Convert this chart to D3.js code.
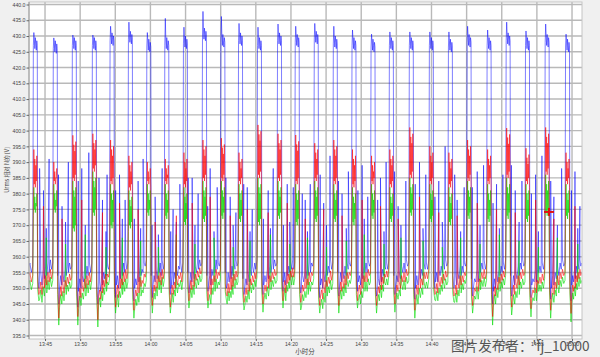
<!DOCTYPE html>
<html><head><meta charset="utf-8">
<script src="https://cdn.jsdelivr.net/npm/d3@7"></script>
<style>
html,body{margin:0;padding:0;background:#f0f0f0;}
svg{display:block;}
</style></head><body>
<svg id="chart" width="600" height="357"></svg>
<script>
// ---------- data (time = minutes after 13:00, values in V) ----------
const xTickValues = [45,50,55,60,65,70,75,80,85,90,95,100,105,110,115,120];
const xTickLabels = ["13:45","13:50","13:55","14:00","14:05","14:10","14:15","14:20","14:25","14:30","14:35","14:40","14:45","14:50","14:55","15:00"];
const yTickValues = [335,340,345,350,355,360,365,370,375,380,385,390,395,400,405,410,415,420,425,430,435,440];

const peakMin = [43.48,46.32,49.03,51.88,54.40,57.01,59.63,62.19,64.84,67.55,70.17,72.68,75.38,78.23,80.75,83.46,86.17,88.83,91.54,94.15,96.99,99.84,102.55,105.21,108.06,110.77,113.52,116.32,119.22];
const blueTop = [431.1,429.4,430.3,430.3,433.1,434.4,431.1,435.6,432.8,437.8,436.2,434.0,432.8,433.8,433.1,434.0,433.1,431.9,430.6,431.3,431.3,431.3,431.3,433.1,431.9,434.4,431.6,433.8,430.6];
const bluePlateau = [428,427,428,428,429.5,430,427.5,428,428.5,431,429,429.5,428,429.5,429,430,428.5,428,427.5,428,428,428,427.5,429,428,429.5,428,429,427.5];
const redHigh = [394,390,398.5,399,397,392,390,391,393,397,397.6,393,401.8,399,398.6,396,397,394,392,394,401,395,393,397,394,400.8,394.4,401,393];
const redLow = [381,382,383,386,382,380,382,382,381,383,383,382,384,383,382,383,382,381,382,381,384,382,381,383,382,384,382,385,382];
const greenHigh = [382,383,384,387,383,381,383,383,382,384,384,383,385,384,383,384,383,382,383,382,385,383,382,384,383,385,383,386,383];
const greenLow = [373,373,367,372,368,368,372,371,369,370,371,370,369,371,369,370,370,369,371,370,372,370,369,371,370,371,370,372,371];
const blueDip = [350,345,344,345,347,346,347,348,348.5,349,350,348,348,349,348.5,347,347.5,349,347.5,348,346.5,350,350,347.5,345,347.5,347,346.5,346];
const redDip = [348,340.5,341,340,344,343,344.5,344,346,346,348,345.5,345,346,345.5,344.5,344.5,346,344.5,345,343,348,347.5,344.5,341,344,343.5,343,342];
const greenDip = [346,338.3,338.3,337.7,342.1,340.5,342.1,342.1,343.7,343.7,346.2,343.1,342.4,343.7,343.1,342.1,342.1,343.7,342.1,342.4,340.5,346.2,345.6,342.1,338.3,341.5,340.9,340.5,339.3];
const redGap = [3,3.5,3,2.5,3,3.5,3,3,2.5,3,3.5,3,3,2.5,3,3.5,3,3,2.5,3,3,3.5,3,3,2.5,3,3.5,3,3];
const greenGap = [5.5,6,5.5,5,6,6.5,5.5,5.5,5,6,6,5.5,5.5,5,6,6.5,5.5,6,5,5.5,6,6,5.5,5.5,5,6,6,5.5,5.5];
const blueRecovery = [
[352,355,351,356,353,357,354,358,355,359,356,358],
[350,354,351,355,352,356,354,357,355,358,356,357],
[349,353,350,354,352,356,353,357,354,358,355,358],
[350,352,349,354,351,355,353,357,354,357,356,358],
[351,354,350,355,353,356,354,358,355,359,356,358],
[350,353,351,355,352,357,354,356,355,358,357,359],
[351,354,352,356,353,357,355,358,354,359,356,358],
[350,354,351,355,353,356,354,357,356,358,355,358],
[351,355,352,356,353,357,355,358,356,359,357,358],
[352,354,351,356,354,357,355,359,356,358,357,359],
[351,355,352,355,353,357,354,358,356,359,357,358],
[350,353,351,355,352,356,354,357,355,358,356,359],
[351,354,352,356,353,357,355,358,356,359,357,358],
[352,355,351,356,354,357,355,358,356,359,356,358],
[350,354,352,355,353,356,354,358,355,358,357,359],
[351,353,350,355,352,356,354,357,355,359,356,358],
[351,355,352,356,353,357,354,358,356,358,357,359],
[352,354,351,355,353,357,355,358,355,359,357,358],
[350,353,351,356,352,356,354,357,356,358,356,359],
[351,354,352,355,353,357,355,358,355,359,357,358],
[350,354,351,356,353,356,354,358,356,358,356,359],
[352,355,352,356,354,357,355,358,356,359,357,358],
[351,354,351,355,353,357,354,357,355,358,357,359],
[350,353,352,356,352,356,355,358,356,359,356,358],
[349,353,350,355,352,356,354,357,355,358,356,359],
[350,354,351,355,353,357,354,358,356,359,357,358],
[351,353,352,356,352,356,355,357,355,358,356,359],
[350,354,351,355,353,357,354,358,356,359,357,358],
[351,354,352,356,353,357,355,358,356,359,357,358]
];
const blueSpikes = [
[[0.75,388],[1.3,381],[1.7,369],[2.1,391]],
[[0.6,386],[1.1,376],[1.6,371],[2.0,390]],
[[0.7,384],[1.2,388],[1.7,370],[2.2,393]],
[[0.8,385],[1.3,378],[1.8,368],[1.95,386]],
[[0.65,381],[1.2,386],[1.6,372],[2.0,378]],
[[0.7,372],[1.24,384],[1.6,369],[1.95,391]],
[[0.6,370],[1.04,379],[1.5,367],[2.04,388]],
[[0.7,368],[1.04,375],[1.5,371],[2.0,383]],
[[0.53,385],[1.1,385],[1.5,370],[1.95,380]],
[[0.6,376],[0.95,388],[1.5,368],[1.95,382]],
[[0.57,385],[1.18,379],[1.6,370],[2.0,374]],
[[0.6,383],[1.1,382],[1.5,368],[1.81,375]],
[[0.7,372],[1.38,381],[1.7,369],[2.1,388]],
[[0.7,370],[1.24,383],[1.6,371],[2.1,382]],
[[0.86,380],[1.28,378],[1.6,368],[2.0,383]],
[[0.7,386],[1.2,377],[1.6,370],[2.1,392]],
[[0.6,384],[1.1,380],[1.7,369],[2.0,387]],
[[0.7,381],[1.3,389],[1.6,372],[2.1,379]],
[[0.8,378],[1.2,385],[1.7,368],[2.0,390]],
[[0.6,387],[1.1,376],[1.5,370],[2.2,384]],
[[0.7,383],[1.3,390],[1.8,369],[2.2,386]],
[[0.65,379],[1.2,384],[1.7,371],[2.1,395]],
[[0.75,386],[1.1,378],[1.6,368],[2.1,382]],
[[0.6,382],[1.3,387],[1.7,370],[2.2,389]],
[[0.7,377],[1.2,383],[1.6,369],[2.1,386]],
[[0.6,389],[1.15,381],[1.7,371],[2.1,384]],
[[0.7,380],[1.3,386],[1.7,368],[2.2,392]],
[[0.65,384],[1.1,379],[1.6,370],[2.2,388]],
[[0.7,381],[1.2,387],[1.6,369],[1.9,376]]
];
const redSpikes = [[[1.3,376]],[[1.1,372]],[[1.2,378]],[[1.3,374]],[[1.2,377]],[[1.24,375]],[[1.04,371]],[[1.5,373]],[[1.1,377]],[[0.95,379]],[[1.18,373]],[[1.1,375]],[[1.38,374]],[[1.24,377]],[[1.28,372]],[[1.2,375]],[[1.1,373]],[[1.3,378]],[[1.2,376]],[[1.1,372]],[[1.3,379]],[[1.2,374]],[[1.1,373]],[[1.3,377]],[[1.2,375]],[[1.15,374]],[[1.3,378]],[[1.1,372]],[[1.2,376]]];
const greenSpikes = [[[1.7,366]],[[1.6,364]],[[1.7,367]],[[1.8,363]],[[1.6,366]],[[1.6,365]],[[1.5,363]],[[1.5,367]],[[1.5,364]],[[1.5,366]],[[1.6,363]],[[1.5,365]],[[1.7,367]],[[1.6,364]],[[1.6,366]],[[1.6,363]],[[1.7,365]],[[1.6,367]],[[1.7,364]],[[1.5,366]],[[1.8,365]],[[1.7,363]],[[1.6,366]],[[1.7,364]],[[1.6,367]],[[1.7,365]],[[1.7,363]],[[1.6,366]],[[1.6,364]]];
const leadTimes = [42.6,42.85,43.05,43.25];
const leadBlue = [356,358,355,357];
const holdOffsets = [-0.14,-0.07,0,0.07,0.14,0.21,0.28,0.35,0.42];
const blueHoldJitter = [-1,0,1,-2,1.5,-0.5,-2.5,0.5,-1];
const bandJitter = [0,0,2,3,1,5,3,2,0];
const cursorPoint = [116.72, 374.2];
const endMin = 121.6;

// ---------- layout ----------
const W = 600, H = 357;
const plotL = 29, plotR = 582, plotT = 2, plotB = 339;
const svg = d3.select('#chart');
const x = d3.scaleLinear().domain([42.72, 121.42]).range([plotL, plotR]);
const y = d3.scaleLinear().domain([335, 440]).range([335.5, 4.5]);

svg.append('rect').attr('width', W).attr('height', H).attr('fill', '#f0f0f0');
svg.append('rect').attr('x', plotL).attr('y', plotT).attr('width', plotR - plotL).attr('height', plotB - plotT)
  .attr('fill', '#fff');

// grid
const grid = svg.append('g');
grid.selectAll('line.h').data(yTickValues).join('line').attr('class', 'h')
  .attr('x1', plotL).attr('x2', plotR).attr('y1', d => y(d)).attr('y2', d => y(d))
  .attr('stroke', '#b9b9b9').attr('stroke-width', 1.4);
grid.selectAll('line.v').data(xTickValues).join('line').attr('class', 'v')
  .attr('y1', plotT).attr('y2', plotB).attr('x1', d => x(d)).attr('x2', d => x(d))
  .attr('stroke', '#b9b9b9').attr('stroke-width', 1.4);

// build series
function buildSeries(kind) {
  const gap = kind === 'blue' ? null : (kind === 'red' ? redGap : greenGap);
  const pts = [];
  leadTimes.forEach((t, k) => pts.push([t, leadBlue[k] - (gap ? gap[0] : 0)]));
  peakMin.forEach((T, i) => {
    const g = gap ? gap[i] : 0;
    const Tn = i < peakMin.length - 1 ? peakMin[i + 1] : endMin;
    holdOffsets.forEach((o, k) => {
      let v;
      if (kind === 'blue') v = k === 1 ? blueTop[i] : bluePlateau[i] + blueHoldJitter[k];
      else {
        const hi = kind === 'red' ? redHigh[i] : greenHigh[i];
        const lo = kind === 'red' ? redLow[i] : greenLow[i];
        v = k % 2 ? hi - bandJitter[k] : lo + bandJitter[k];
      }
      pts.push([T + o, v]);
    });
    const rec = blueRecovery[i];
    pts.push([T + 0.48, rec[1] - g]);
    const dip = kind === 'blue' ? blueDip[i] : (kind === 'red' ? redDip[i] : greenDip[i]);
    pts.push([T + 0.64, dip]);
    const t0 = T + 0.75, t1 = Tn - 0.22;
    rec.forEach((v, k) => pts.push([t0 + (t1 - t0) * k / (rec.length - 1), v - g]));
    const sp = kind === 'blue' ? blueSpikes[i] : (kind === 'red' ? redSpikes[i] : greenSpikes[i]);
    sp.forEach(s => pts.push([T + s[0], s[1]]));
  });
  pts.sort((a, b) => a[0] - b[0]);
  return pts;
}

svg.append('clipPath').attr('id', 'clip').append('rect')
  .attr('x', plotL).attr('y', plotT).attr('width', plotR - plotL).attr('height', plotB - plotT);
const plot = svg.append('g').attr('clip-path', 'url(#clip)');

const styles = [
  {kind: 'blue', color: '#0000ff', op: 0.5},
  {kind: 'green', color: '#00dc00', op: 0.6},
  {kind: 'red', color: '#ff0000', op: 0.55}
];
styles.forEach(s => {
  const segs = d3.pairs(buildSeries(s.kind));
  plot.append('g').selectAll('line').data(segs).join('line')
    .attr('x1', d => x(d[0][0])).attr('y1', d => y(d[0][1]))
    .attr('x2', d => x(d[1][0])).attr('y2', d => y(d[1][1]))
    .attr('stroke', s.color).attr('stroke-opacity', s.op).attr('stroke-width', 1);
});

// plot border
svg.append('rect').attr('x', plotL).attr('y', plotT).attr('width', plotR - plotL).attr('height', plotB - plotT)
  .attr('fill', 'none').attr('stroke', '#c4c4c4').attr('stroke-width', 1);
svg.append('line').attr('x1', plotL).attr('x2', plotL).attr('y1', plotT).attr('y2', plotB)
  .attr('stroke', '#9a9a9a').attr('stroke-width', 1);

// axes
const fontFam = '"Liberation Sans", Arial, sans-serif';
const yAxis = svg.append('g').attr('transform', `translate(${plotL},0)`)
  .call(d3.axisLeft(y).tickValues(yTickValues).tickFormat(d3.format('.1f')).tickSize(2.5).tickPadding(1));
yAxis.select('.domain').remove();
yAxis.selectAll('line').attr('stroke', '#666');
yAxis.selectAll('text').attr('font-size', 5.2).attr('font-family', fontFam).attr('fill', '#444');

const xAxis = svg.append('g').attr('transform', `translate(0,${plotB})`)
  .call(d3.axisBottom(x).tickValues(xTickValues).tickFormat((d, i) => xTickLabels[i]).tickSize(2).tickPadding(1.5));
xAxis.select('.domain').remove();
xAxis.selectAll('line').attr('stroke', '#666');
xAxis.selectAll('text').attr('font-size', 5.2).attr('font-family', fontFam).attr('fill', '#444');

// titles
svg.append('text').attr('x', 305).attr('y', 353.5).attr('text-anchor', 'middle')
  .attr('font-size', 6.5).attr('font-family', '"Noto Sans CJK SC", sans-serif').attr('fill', '#444').text('小时分');
svg.append('text').attr('transform', 'translate(9,170) rotate(-90)').attr('text-anchor', 'middle')
  .attr('font-size', 5.6).attr('font-family', '"Noto Sans CJK SC", sans-serif').attr('fill', '#444').text('Urms 相对 N的 [V]');

// cursor
const cg = svg.append('g').attr('stroke', '#e01010').attr('stroke-width', 2);
cg.append('line').attr('x1', x(cursorPoint[0]) - 5).attr('x2', x(cursorPoint[0]) + 5)
  .attr('y1', y(cursorPoint[1])).attr('y2', y(cursorPoint[1]));
cg.append('line').attr('x1', x(cursorPoint[0])).attr('x2', x(cursorPoint[0]))
  .attr('y1', y(cursorPoint[1]) - 4).attr('y2', y(cursorPoint[1]) + 4);

// watermark
svg.append('text').attr('x', 451).attr('y', 350.5)
  .attr('font-size', 13.6).attr('font-family', '"Noto Sans CJK SC", sans-serif').attr('fill', '#555')
  .text("图片发布者：'fj_10000");
</script>
</body></html>
